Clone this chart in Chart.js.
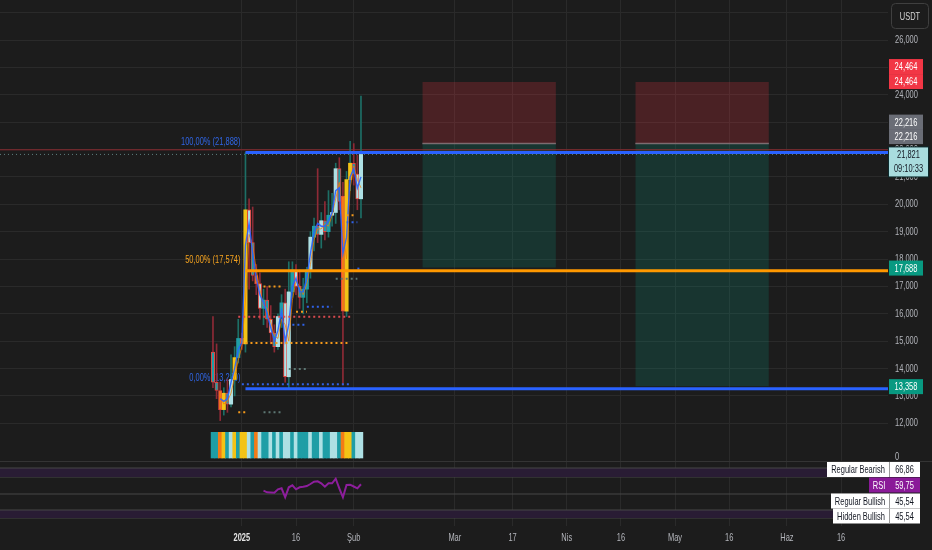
<!DOCTYPE html>
<html>
<head>
<meta charset="utf-8">
<script src="https://cdn.jsdelivr.net/npm/chart.js@4.4.1/dist/chart.umd.min.js"></script>
<style>
  html, body { margin: 0; padding: 0; background: #1c1c1c; overflow: hidden; }
  #wrap { position: relative; width: 932px; height: 550px; }
  canvas { position: absolute; left: 0; }
  #main { top: 0; }
  #osc { top: 462px; }
</style>
</head>
<body>
<div id="wrap">
  <canvas id="main" width="932" height="462"></canvas>
  <canvas id="osc" width="932" height="88"></canvas>
</div>
<script>
const FONT = "'Liberation Sans', Arial, sans-serif";
const SQ = 0.68; // the screenshot text is horizontally squeezed

// daily candles
const dates = [
  '2024-12-24','2024-12-25','2024-12-26','2024-12-27','2024-12-28','2024-12-29','2024-12-30','2024-12-31',
  '2025-01-01','2025-01-02','2025-01-03','2025-01-04','2025-01-05','2025-01-06','2025-01-07','2025-01-08',
  '2025-01-09','2025-01-10','2025-01-11','2025-01-12','2025-01-13','2025-01-14','2025-01-15','2025-01-16',
  '2025-01-17','2025-01-18','2025-01-19','2025-01-20','2025-01-21','2025-01-22','2025-01-23','2025-01-24',
  '2025-01-25','2025-01-26','2025-01-27','2025-01-28','2025-01-29','2025-01-30','2025-01-31','2025-02-01',
  '2025-02-02','2025-02-03'
];
const opens  = [14600,13500,13200,12500,13100,12700,13600,14400,15100,14900,19800,18600,17400,17100,16200,16500,15800,15300,14800,15900,16400,13700,16800,17600,17000,16600,16900,17600,18800,19200,18900,19400,19000,19600,19700,21300,20300,16100,20900,21500,21100,20200];
const highs  = [15900,14900,13500,13300,13600,14500,14800,15800,15300,21888,20200,19900,17800,17500,16900,17000,16300,15600,16000,16700,16900,17900,17900,17800,17600,17300,17700,19000,19500,21300,19700,20100,20500,20400,21500,21700,20800,21200,22300,22216,21800,23950];
const lows   = [13300,12900,12100,12300,12400,12600,13000,14200,14700,14600,16900,17200,16700,15800,15600,15500,14900,14600,14700,15500,13500,13300,16600,16700,16200,16000,16400,17300,18300,18600,18400,18700,18800,19200,19300,19800,13400,15900,20500,20700,19800,19500];
const closes = [13500,13200,12500,13100,12700,13600,14400,15100,14900,19800,18600,17400,17100,16200,16500,15800,15300,14800,15900,16400,13700,16800,17600,17000,16600,16900,17600,18800,19200,18900,19400,19000,19600,19700,21300,20100,16100,20900,21500,21100,20200,21821];
const tones  = ['T','T','O','Y','T','L','Y','T','Y','Y','L','T','O','L','T','T','L','T','L','T','L','L','T','L','T','T','T','L','T','T','L','T','T','L','L','T','O','Y','Y','T','L','L'];

// overlay lines
const fastLine = [null,null,12900,12800,12900,13500,14000,14700,14950,18500,19300,18200,17300,16700,16400,16000,15500,15000,15400,16100,15000,15600,17000,17300,16800,16800,17300,18200,19000,19300,19200,19200,19400,19700,20500,20600,18200,18800,21000,21300,20600,21000];
const slowLine = [null,null,13000,12700,12800,13100,13700,14300,14800,16500,18900,18500,17600,16900,16300,16200,15700,15200,15100,15800,15600,15000,16500,17200,17000,16700,17100,17800,18700,19100,19100,19300,19200,19600,20200,20800,19000,18000,20600,21400,20900,20600];

// RSI
const rsi = [null,null,null,null,null,null,null,null,null,null,null,null,null,null,
  53.3,51.7,51.5,51.3,54.7,55.7,46.7,56.7,58.7,54.7,56.7,57.3,58.0,60.0,62.3,62.7,60.7,57.3,60.7,60.7,65.3,55.7,46.7,59.0,59.3,57.5,55.7,59.75];
const rsiBands = [[67, 76], [26, 34]];
const rsiMid = 50;
const rsiTagNames = ['Regular Bearish', 'RSI', 'Regular Bullish', 'Hidden Bullish'];
const rsiTagValues = [66.86, 59.75, 45.54, 45.54];

// axes
const tickDates = ['2025-01-01','2025-01-16','2025-02-01','2025-03-01','2025-03-17','2025-04-01','2025-04-16','2025-05-01','2025-05-16','2025-06-01','2025-06-16'];
const tickLabels = ['2025','16','Şub','Mar','17','Nis','16','May','16','Haz','16'];
const priceTicks = [12000,13000,14000,15000,16000,17000,18000,19000,20000,21000,22000,23000,24000,25000,26000,27000];

// fibonacci
const fibStart = '2025-01-02';
const fibRatios = [1, 0.5, 0];
const fibPrices = [21888, 17574, 13260];

// positions
const boxStart = ['2025-02-20', '2025-04-20'];
const boxEnd = ['2025-03-29', '2025-05-27'];
const stopPrices = [24464, 24464];
const entryPrices = [22216, 22216];
const targetPrices = [17688, 13358];

// reference lines
const lastPrice = 21821;
const lastTime = '09:10:33';
const alertPrice = 21990;

// dotted pivot levels
const levelPrices = [21895, 17000, 16073, 16257, 15890, 15596, 14936, 13982, 13431, 12404, 12404, 17284, 17650, 19600, 19340, 21895];
const levelFrom = ['2025-01-07','2025-01-07','2025-01-16','2025-01-19','2024-12-31','2025-01-15','2025-01-02','2025-01-14','2025-01-01','2024-12-31','2025-01-07','2025-01-27','2025-02-02','2025-01-30','2025-01-30','2025-01-29'];
const levelTo   = ['2025-01-12','2025-01-12','2025-01-19','2025-01-26','2025-01-31','2025-01-19','2025-01-31','2025-01-19','2025-01-31','2025-01-02','2025-01-12','2025-02-02','2025-02-03','2025-02-01','2025-02-02','2025-02-02'];
const levelTones = ['R','O','O','B','R','B','O','G','B','O','G','G','B','O','B','R'];

const DAY0 = Date.UTC(2025, 0, 1);
const dayOf = s => { const [y, m, d] = s.split('-').map(Number); return (Date.UTC(y, m - 1, d) - DAY0) / 864e5; };
const X_MIN = -67, X_MAX = 179;
const xs = dates.map(dayOf);
const flat = (a, b, y) => [{x: a, y}, {x: b, y}];
const fmtPrice = v => v.toLocaleString('en-US');
const fmtDec = v => v.toFixed(2).replace('.', ',');

const toneFill = {T: '#1f9ea6', L: '#aee0e4', Y: '#f3c316', O: '#f37b16'};
const levelColor = {R: '#d84a4f', O: '#f59a1b', B: '#2f62e8', G: '#5d7773'};

const tickBuilder = s => { s.ticks = tickDates.map(d => ({value: dayOf(d)})); };

function say(ctx, s, x, y, align) {
  ctx.save();
  ctx.translate(x, y);
  ctx.scale(SQ, 1);
  ctx.textAlign = align || 'left';
  ctx.fillText(s, 0, 0);
  ctx.restore();
}
const sayWidth = (ctx, s) => ctx.measureText(s).width * SQ;
function box(ctx, x, y, w, h, bg) { ctx.fillStyle = bg; ctx.fillRect(x, y, w, h); }

// ---------- main pane ----------
const mainSets = [];
boxStart.forEach((s, i) => {
  const a = dayOf(s), b = dayOf(boxEnd[i]);
  mainSets.push({type: 'line', data: flat(a, b, stopPrices[i]), fill: {value: entryPrices[i]},
    backgroundColor: 'rgba(242,54,69,0.22)', borderWidth: 0, pointRadius: 0, order: 20});
  mainSets.push({type: 'line', data: flat(a, b, entryPrices[i]), fill: {value: targetPrices[i]},
    backgroundColor: 'rgba(8,153,129,0.2)', borderColor: '#6f7377', borderWidth: 1.5, pointRadius: 0, order: 20});
});
mainSets.push({type: 'line', data: flat(X_MIN, X_MAX, alertPrice), borderColor: '#8a2a30', borderWidth: 1, pointRadius: 0, order: 19});
mainSets.push({type: 'line', data: flat(X_MIN, X_MAX, lastPrice), borderColor: '#5f7f7f', borderWidth: 1, borderDash: [1, 3], pointRadius: 0, order: 19});
mainSets.push({type: 'bar', yAxisID: 'yS', data: xs.map(x => ({x, y: [0, 0.95]})),
  backgroundColor: tones.map(t => toneFill[t]), barThickness: 3.8, grouped: false, order: 18});
mainSets.push({type: 'bar', data: xs.map((x, i) => ({x, y: [lows[i], highs[i]]})),
  backgroundColor: xs.map((x, i) => closes[i] >= opens[i] ? '#1d6f66' : '#8e2a36'),
  barThickness: 1, grouped: false, order: 12});
mainSets.push({type: 'bar', data: xs.map((x, i) => ({x, y: [opens[i], closes[i]]})),
  backgroundColor: tones.map(t => toneFill[t]), borderColor: '#e2453f',
  borderWidth: xs.map((x, i) => closes[i] < opens[i] ? 1 : 0), borderSkipped: false,
  barThickness: 3.4, minBarLength: 1, grouped: false, order: 11});
mainSets.push({type: 'line', data: xs.map((x, i) => ({x, y: slowLine[i]})), borderColor: 'rgba(245,124,0,0.75)', borderWidth: 1, pointRadius: 0, order: 9});
mainSets.push({type: 'line', data: xs.map((x, i) => ({x, y: fastLine[i]})), borderColor: 'rgba(41,98,255,0.9)', borderWidth: 1.4, pointRadius: 0, order: 8});
levelPrices.forEach((p, i) => {
  mainSets.push({type: 'line', data: flat(dayOf(levelFrom[i]), dayOf(levelTo[i]), p),
    borderColor: levelColor[levelTones[i]], borderWidth: 2, borderDash: [2, 3], pointRadius: 0, order: 5});
});
fibPrices.forEach((p, i) => {
  mainSets.push({type: 'line', data: flat(dayOf(fibStart), X_MAX, p),
    borderColor: fibRatios[i] === 0.5 ? '#ff9800' : '#2962ff', borderWidth: 3, pointRadius: 0, order: 2});
});

const mainDecor = {
  id: 'mainDecor',
  beforeDatasetsDraw(c) {
    const ctx = c.ctx, x = c.scales.x, y = c.scales.y;
    ctx.save();
    ctx.font = '11px ' + FONT;
    ctx.textBaseline = 'middle';
    fibPrices.forEach((p, i) => {
      ctx.fillStyle = fibRatios[i] === 0.5 ? '#f5a31f' : '#3066e6';
      const txt = fmtDec(fibRatios[i] * 100) + '% (' + fmtPrice(p) + ')';
      say(ctx, txt, x.getPixelForValue(dayOf(fibStart)) - 5, y.getPixelForValue(p) - 11, 'right');
    });
    ctx.restore();
  },
  afterDraw(c) {
    const ctx = c.ctx, y = c.scales.y, a = c.chartArea;
    const lx = a.right + 1;
    ctx.save();
    ctx.font = '11px ' + FONT;
    ctx.textBaseline = 'middle';
    ctx.fillStyle = '#b4b6bc';
    priceTicks.forEach(v => say(ctx, fmtPrice(v), a.right + 7, y.getPixelForValue(v)));
    say(ctx, '0', a.right + 7, c.scales.yS.getPixelForValue(0) - 1);

    // separator to oscillator pane
    ctx.fillStyle = '#343434';
    ctx.fillRect(0, a.bottom - 1, c.width, 1);

    // price tags
    const tags = [
      [stopPrices[0], -15.5, '#f23645'], [stopPrices[1], -0.5, '#f23645'],
      [entryPrices[0], -21.5, '#6a6d76'], [entryPrices[1], -7, '#6a6d76'],
      [targetPrices[0], 0.5, '#089981'], [targetPrices[1], 0.5, '#089981']
    ];
    tags.forEach(([p, dy, bg]) => {
      const yc = y.getPixelForValue(p) + dy;
      box(ctx, lx, yc - 7.5, 34, 15, bg);
      ctx.fillStyle = '#ffffff';
      say(ctx, fmtPrice(p), lx + 17, yc + 0.5, 'center');
    });
    // last price tag
    const ly = y.getPixelForValue(lastPrice);
    box(ctx, lx - 1, ly - 8, 41, 31, '#0d2b2d');
    box(ctx, lx, ly - 7, 39, 29, '#a9dcde');
    ctx.fillStyle = '#131722';
    say(ctx, fmtPrice(lastPrice), lx + 19.5, ly + 0.5, 'center');
    say(ctx, lastTime, lx + 19.5, ly + 14.5, 'center');

    // currency button
    ctx.fillStyle = '#1c1c1c';
    ctx.strokeStyle = '#3f3f3f';
    ctx.lineWidth = 1;
    ctx.beginPath();
    ctx.roundRect(891.5, 3.5, 37, 25, 4);
    ctx.fill();
    ctx.stroke();
    ctx.fillStyle = '#d6d6d6';
    say(ctx, 'USDT', 910, 16.5, 'center');
    ctx.restore();
  }
};

new Chart(document.getElementById('main'), {
  type: 'bar',
  data: {datasets: mainSets},
  options: {
    responsive: false,
    animation: false,
    events: [],
    layout: {padding: 0},
    plugins: {legend: {display: false}, tooltip: {enabled: false}},
    scales: {
      x: {type: 'linear', min: X_MIN, max: X_MAX, offset: false,
        grid: {color: '#2a2a2a', drawTicks: false, offset: false}, border: {display: false},
        ticks: {display: false}, afterBuildTicks: tickBuilder, afterFit: s => { s.height = 0; }},
      y: {type: 'linear', position: 'right', min: 10587, max: 27461,
        grid: {color: '#2a2a2a', drawTicks: false}, border: {display: false},
        ticks: {display: false}, afterBuildTicks: s => { s.ticks = priceTicks.map(v => ({value: v})); },
        afterFit: s => { s.width = 44; }},
      yS: {type: 'linear', display: false, min: -0.148, max: 16.963}
    }
  },
  plugins: [mainDecor]
});

// ---------- oscillator pane ----------
const oscSets = [];
rsiBands.forEach(b => {
  oscSets.push({data: flat(X_MIN, X_MAX, b[1]), fill: {value: b[0]}, backgroundColor: '#291c34',
    borderColor: '#474747', borderWidth: 1, pointRadius: 0, order: 5});
  oscSets.push({data: flat(X_MIN, X_MAX, b[0]), borderColor: '#474747', borderWidth: 1, pointRadius: 0, order: 5});
});
oscSets.push({data: flat(X_MIN, X_MAX, rsiMid), borderColor: '#474747', borderWidth: 1, pointRadius: 0, order: 5});
oscSets.push({data: xs.map((x, i) => ({x, y: rsi[i]})), borderColor: '#8d1e9c', borderWidth: 2, pointRadius: 0, order: 1});

const oscDecor = {
  id: 'oscDecor',
  afterDraw(c) {
    const ctx = c.ctx, a = c.chartArea, right = a.right + 1;
    ctx.save();
    ctx.textBaseline = 'middle';

    // time axis labels
    c.scales.x.ticks.forEach((t, i) => {
      const first = i === 0;
      ctx.font = (first ? 'bold ' : '') + '11px ' + FONT;
      ctx.fillStyle = first ? '#e4e4e4' : '#b4b6bc';
      say(ctx, tickLabels[i], c.scales.x.getPixelForValue(t.value), a.bottom + 11.5, 'center');
    });

    // indicator tags
    ctx.font = '11px ' + FONT;
    const rows = [7.5, 23, 39, 54];
    rsiTagNames.forEach((name, i) => {
      const yc = rows[i];
      const isRsi = name === 'RSI';
      const bg = isRsi ? '#8a1a98' : '#ffffff';
      const fg = isRsi ? '#ffffff' : '#131722';
      const nw = Math.round(sayWidth(ctx, name) + 8);
      box(ctx, right - nw, yc - 7.5, nw, 15, bg);
      box(ctx, right, yc - 7.5, 31, 15, bg);
      if (!isRsi) { ctx.fillStyle = '#9a9a9a'; ctx.fillRect(right, yc - 7.5, 1, 15); }
      ctx.fillStyle = fg;
      say(ctx, name, right - nw / 2, yc + 0.5, 'center');
      say(ctx, fmtDec(rsiTagValues[i]), right + 15.5, yc + 0.5, 'center');
    });
    ctx.restore();
  }
};

new Chart(document.getElementById('osc'), {
  type: 'line',
  data: {datasets: oscSets},
  options: {
    responsive: false,
    animation: false,
    events: [],
    layout: {padding: 0},
    plugins: {legend: {display: false}, tooltip: {enabled: false}},
    scales: {
      x: {type: 'linear', min: X_MIN, max: X_MAX,
        grid: {color: '#2a2a2a', drawTicks: false}, border: {display: false},
        ticks: {display: false}, afterBuildTicks: tickBuilder, afterFit: s => { s.height = 24; }},
      y: {type: 'linear', position: 'right', min: 18, max: 82,
        grid: {display: false}, border: {display: false}, ticks: {display: false},
        afterFit: s => { s.width = 44; }}
    }
  },
  plugins: [oscDecor]
});
</script>
</body>
</html>
